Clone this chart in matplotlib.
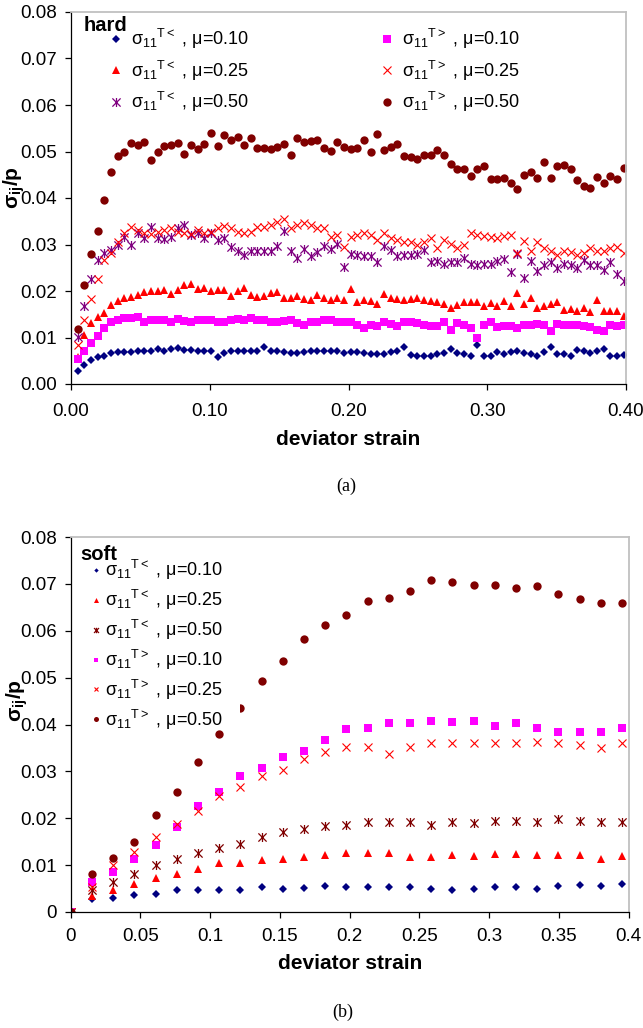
import matplotlib
matplotlib.use('Agg')
import matplotlib.pyplot as plt
from matplotlib.path import Path
from matplotlib.patches import Rectangle
import numpy as np

plt.rcParams['font.family'] = ['Liberation Sans', 'DejaVu Sans']
plt.rcParams['mathtext.fontset'] = 'custom'
plt.rcParams['mathtext.rm'] = 'Liberation Sans'
plt.rcParams['mathtext.it'] = 'Liberation Sans:italic'
plt.rcParams['mathtext.bf'] = 'Liberation Sans:bold'
plt.rcParams['mathtext.default'] = 'regular'

# ---- (a) hard : strain grid and the six series
hard_strain = np.round(np.arange(1, 84) * 0.0048, 4)
hard_lt_010 = [0.0027,0.0041,0.0051,0.0059,0.0061,0.0067,0.0068,0.0069,0.0068,0.0070,0.0072,0.0072,0.0075,0.0072,0.0075,0.0077,0.0074,0.0074,0.0072,0.0070,0.0070,
               0.0059,0.0066,0.0070,0.0070,0.0072,0.0070,0.0072,0.0079,0.0072,0.0070,0.0069,0.0066,0.0067,0.0069,0.0070,0.0070,0.0072,0.0072,0.0070,0.0066,
               0.0069,0.0069,0.0066,0.0064,0.0064,0.0064,0.0069,0.0072,0.0079,0.0063,0.0060,0.0060,0.0061,0.0064,0.0066,0.0076,0.0066,0.0064,0.0061,0.0084,0.0061,
               0.0061,0.0069,0.0064,0.0069,0.0070,0.0067,0.0064,0.0060,0.0069,0.0079,0.0064,0.0064,0.0060,0.0074,0.0070,0.0067,0.0070,0.0076,0.0061,0.0060,0.0062]
hard_lt_025 = [0.0059,0.0106,0.0131,0.0144,0.0152,0.0169,0.0179,0.0184,0.0188,0.0192,0.0197,0.0200,0.0200,0.0202,0.0194,0.0202,0.0213,0.0214,0.0204,0.0207,0.0200,
               0.0202,0.0203,0.0190,0.0199,0.0206,0.0192,0.0188,0.0190,0.0195,0.0197,0.0184,0.0186,0.0189,0.0183,0.0181,0.0192,0.0184,0.0181,0.0184,0.0181,
               0.0204,0.0176,0.0181,0.0179,0.0172,0.0194,0.0184,0.0183,0.0181,0.0183,0.0184,0.0181,0.0179,0.0176,0.0172,0.0164,0.0169,0.0176,0.0177,0.0176,0.0167,
               0.0174,0.0167,0.0179,0.0167,0.0195,0.0172,0.0184,0.0163,0.0167,0.0172,0.0177,0.0159,0.0162,0.0157,0.0164,0.0154,0.0181,0.0157,0.0157,0.0156,0.0147]
hard_lt_050 = [0.0102,0.0167,0.0225,0.0267,0.0281,0.0288,0.0299,0.0317,0.0300,0.0325,0.0313,0.0338,0.0315,0.0312,0.0317,0.0335,0.0343,0.0320,0.0324,0.0313,0.0324,
               0.0310,0.0315,0.0295,0.0285,0.0277,0.0286,0.0286,0.0285,0.0285,0.0297,0.0329,0.0286,0.0270,0.0290,0.0276,0.0283,0.0297,0.0290,0.0302,0.0252,
               0.0279,0.0277,0.0276,0.0276,0.0262,0.0297,0.0288,0.0276,0.0277,0.0277,0.0279,0.0288,0.0262,0.0265,0.0257,0.0262,0.0262,0.0270,0.0257,0.0256,0.0257,
               0.0257,0.0265,0.0269,0.0240,0.0279,0.0229,0.0265,0.0242,0.0255,0.0262,0.0250,0.0257,0.0256,0.0250,0.0267,0.0255,0.0255,0.0245,0.0262,0.0236,0.0222]
hard_gt_010 = [0.0054,0.0072,0.0088,0.0104,0.0120,0.0134,0.0138,0.0142,0.0142,0.0144,0.0133,0.0138,0.0137,0.0138,0.0133,0.0139,0.0136,0.0133,0.0138,0.0138,0.0138,
               0.0133,0.0133,0.0138,0.0139,0.0138,0.0142,0.0137,0.0138,0.0134,0.0133,0.0136,0.0138,0.0131,0.0127,0.0133,0.0134,0.0138,0.0137,0.0134,0.0133,
               0.0133,0.0127,0.0120,0.0127,0.0124,0.0134,0.0129,0.0124,0.0134,0.0133,0.0131,0.0127,0.0124,0.0124,0.0133,0.0117,0.0131,0.0127,0.0120,0.0099,0.0127,
               0.0133,0.0122,0.0124,0.0124,0.0120,0.0126,0.0127,0.0129,0.0127,0.0113,0.0129,0.0127,0.0127,0.0127,0.0124,0.0122,0.0117,0.0114,0.0127,0.0124,0.0126]
hard_gt_025 = [0.0084,0.0138,0.0182,0.0225,0.0267,0.0281,0.0306,0.0325,0.0338,0.0331,0.0324,0.0322,0.0327,0.0332,0.0335,0.0327,0.0324,0.0322,0.0331,0.0324,0.0327,
               0.0335,0.0340,0.0335,0.0327,0.0324,0.0327,0.0338,0.0338,0.0343,0.0349,0.0355,0.0335,0.0342,0.0347,0.0342,0.0335,0.0336,0.0317,0.0320,0.0295,
               0.0317,0.0320,0.0324,0.0320,0.0310,0.0324,0.0313,0.0310,0.0306,0.0306,0.0299,0.0306,0.0313,0.0292,0.0310,0.0302,0.0292,0.0300,0.0324,0.0320,0.0319,
               0.0317,0.0315,0.0319,0.0320,0.0281,0.0307,0.0285,0.0306,0.0292,0.0286,0.0277,0.0286,0.0283,0.0277,0.0281,0.0292,0.0286,0.0285,0.0292,0.0295,0.0281]
hard_gt_050 = [0.0119,0.0212,0.0279,0.0329,0.0396,0.0456,0.0490,0.0498,0.0519,0.0513,0.0520,0.0482,0.0500,0.0512,0.0515,0.0518,0.0495,0.0515,0.0505,0.0517,0.0540,
               0.0512,0.0536,0.0524,0.0531,0.0513,0.0530,0.0508,0.0508,0.0505,0.0510,0.0517,0.0493,0.0530,0.0520,0.0522,0.0524,0.0508,0.0501,0.0520,0.0510,
               0.0505,0.0508,0.0524,0.0500,0.0538,0.0503,0.0510,0.0517,0.0490,0.0488,0.0483,0.0493,0.0492,0.0503,0.0493,0.0474,0.0463,0.0463,0.0448,0.0463,0.0469,
               0.0440,0.0440,0.0442,0.0433,0.0419,0.0450,0.0455,0.0443,0.0478,0.0443,0.0469,0.0470,0.0463,0.0438,0.0426,0.0422,0.0445,0.0433,0.0448,0.0440,0.0465]

# ---- (b) soft
soft_strain = np.round(np.arange(27) * 0.0152, 4)
soft_lt_010 = [0, 0.0027,0.0030,0.0036,0.0038,0.0046,0.0047,0.0048,0.0046,0.0053,0.0049,0.0052,0.0055,0.0054,
               0.0054,0.0054,0.0054,0.0050,0.0048,0.0050,0.0053,0.0053,0.0050,0.0055,0.0058,0.0056,0.0059]
soft_lt_025 = [0, 0.0034,0.0048,0.0059,0.0072,0.0082,0.0091,0.0104,0.0104,0.0112,0.0114,0.0117,0.0122,0.0125,
               0.0125,0.0125,0.0118,0.0118,0.0121,0.0119,0.0124,0.0124,0.0121,0.0121,0.0121,0.0114,0.0119]
soft_lt_050 = [0, 0.0048,0.0065,0.0082,0.0100,0.0114,0.0125,0.0137,0.0146,0.0159,0.0171,0.0177,0.0183,0.0186,
               0.0191,0.0191,0.0191,0.0186,0.0193,0.0189,0.0195,0.0195,0.0191,0.0198,0.0195,0.0191,0.0193]
soft_gt_010 = [0, 0.0065,0.0086,0.0114,0.0144,0.0182,0.0226,0.0257,0.0290,0.0308,0.0330,0.0344,0.0367,0.0390,
               0.0392,0.0404,0.0404,0.0407,0.0405,0.0407,0.0397,0.0404,0.0392,0.0385,0.0385,0.0385,0.0392]
soft_gt_025 = [0, 0.0054,0.0100,0.0129,0.0161,0.0188,0.0216,0.0247,0.0267,0.0290,0.0303,0.0326,0.0341,0.0351,
               0.0351,0.0337,0.0351,0.0361,0.0361,0.0361,0.0360,0.0361,0.0363,0.0361,0.0356,0.0349,0.0360]
soft_gt_050 = [0, 0.0081,0.0116,0.0150,0.0206,0.0256,0.0321,0.0379,0.0435,0.0493,0.0535,0.0582,0.0612,0.0634,
               0.0663,0.0669,0.0684,0.0708,0.0704,0.0698,0.0697,0.0691,0.0695,0.0678,0.0667,0.0659,0.0659]

labels = [r'$\sigma_{11}{}^{T<}$ , μ=0.10', r'$\sigma_{11}{}^{T<}$ , μ=0.25', r'$\sigma_{11}{}^{T<}$ , μ=0.50',
          r'$\sigma_{11}{}^{T>}$ , μ=0.10', r'$\sigma_{11}{}^{T>}$ , μ=0.25', r'$\sigma_{11}{}^{T>}$ , μ=0.50']

# excel-like asterisk: an x with a vertical stroke
star = Path([(-1, -1), (1, 1), (-1, 1), (1, -1), (0, -1.1), (0, 1.1)],
            [Path.MOVETO, Path.LINETO, Path.MOVETO, Path.LINETO, Path.MOVETO, Path.LINETO])

def styles(star_col):
    return [dict(marker='D', ms=3.7, color='#000080', mew=0),
            dict(marker='^', ms=6.0, color='#ff0000', mew=0),
            dict(marker=star, ms=6.5, color=star_col, mfc='none', mew=0.9),
            dict(marker='s', ms=5.2, color='#ff00ff', mew=0),
            dict(marker='x', ms=6.0, color='#ff0000', mew=0.8),
            dict(marker='o', ms=6.0, color='#800000', mew=0)]

def frame(ax, xt, xl, xpad):
    ax.set_ylim(0, 0.08)
    ax.set_xlim(0, 0.40)
    ax.set_xticks(xt)
    ax.set_xticklabels(xl)
    for s in ['top', 'right']:
        ax.spines[s].set_color('#c0c0c0')
        ax.spines[s].set_linewidth(1.3)
    for s in ['left', 'bottom']:
        ax.spines[s].set_linewidth(0.9)
    ax.tick_params(direction='out', length=4.5, width=0.9, labelsize=13.5, top=False, right=False)
    ax.tick_params(axis='y', pad=5.5)
    ax.tick_params(axis='x', pad=xpad)

fig = plt.figure(figsize=(6.43, 10.28), dpi=100)

# ---------------- (a)
ax1 = fig.add_axes([71/643, 1-384/1028, 555/643, 372/1028])
hs = [hard_lt_010, hard_lt_025, hard_lt_050, hard_gt_010, hard_gt_025, hard_gt_050]
hl = []
for ys, st in zip(hs, styles('#800080')):
    h, = ax1.plot(hard_strain, ys, ls='none', **st)
    hl.append(h)
frame(ax1, [0, 0.1, 0.2, 0.3, 0.4], ['0.00', '0.10', '0.20', '0.30', '0.40'], 9.5)
ax1.set_yticks(np.arange(0, 0.081, 0.01))
ax1.set_yticklabels(['0.00', '0.01', '0.02', '0.03', '0.04', '0.05', '0.06', '0.07', '0.08'])
ax1.set_xlabel('deviator strain', fontsize=15, fontweight='bold')
ax1.xaxis.set_label_coords(0.5, -0.124)
ax1.set_ylabel(r'$\mathbf{σ_{ij}/p}$', fontsize=15)
ax1.yaxis.set_label_coords(-0.079, 0.527)
ax1.text(0.022, 0.99, 'hard', transform=ax1.transAxes, fontsize=14.5, fontweight='bold', va='top', ha='left')
leg1 = ax1.legend(hl[:3], labels[:3], loc='upper left', bbox_to_anchor=(0.064, 0.960), frameon=False,
                  fontsize=13, handlelength=1.0, handletextpad=0.35, labelspacing=0.42, borderpad=0, borderaxespad=0)
ax1.add_artist(leg1)
ax1.legend(hl[3:], labels[3:], loc='upper left', bbox_to_anchor=(0.553, 0.960), frameon=False,
           fontsize=13, handlelength=1.0, handletextpad=0.35, labelspacing=0.42, borderpad=0, borderaxespad=0)

# ---------------- (b)
ax2 = fig.add_axes([70.7/643, 1-912/1028, 558/643, 375/1028])
ss = [soft_lt_010, soft_lt_025, soft_lt_050, soft_gt_010, soft_gt_025, soft_gt_050]
sl = []
for ys, st in zip(ss, styles('#800000')):
    h, = ax2.plot(soft_strain, ys, ls='none', **st)
    sl.append(h)
frame(ax2, [0, 0.05, 0.1, 0.15, 0.2, 0.25, 0.3, 0.35, 0.4],
      ['0', '0.05', '0.1', '0.15', '0.2', '0.25', '0.3', '0.35', '0.4'], 7)
ax2.set_yticks(np.arange(0, 0.081, 0.01))
ax2.set_yticklabels(['0', '0.01', '0.02', '0.03', '0.04', '0.05', '0.06', '0.07', '0.08'])
ax2.set_xlabel('deviator strain', fontsize=15, fontweight='bold')
ax2.xaxis.set_label_coords(0.5, -0.112)
ax2.set_ylabel(r'$\mathbf{σ_{ij}/p}$', fontsize=15)
ax2.yaxis.set_label_coords(-0.073, 0.565)
ax2.text(0.018, 0.978, 'soft', transform=ax2.transAxes, fontsize=14.5, fontweight='bold',
         va='top', ha='left', zorder=10)
# the legend area is opaque in the original and hides a marker behind it
ax2.add_patch(Rectangle((0.004, 0.493), 0.30, 0.465, transform=ax2.transAxes,
                        facecolor='white', edgecolor='none', zorder=4))
leg2 = ax2.legend(sl, labels, loc='upper left', bbox_to_anchor=(0.023, 0.958), frameon=False,
                  markerscale=0.6, fontsize=13, handlelength=0.8, handletextpad=0.1,
                  labelspacing=0.32, borderpad=0.3, borderaxespad=0)

fig.text(0.538, 1-486/1028, '(a)', fontsize=13, family='Liberation Serif', ha='center', va='center')
fig.text(0.533, 1-1012/1028, '(b)', fontsize=13, family='Liberation Serif', ha='center', va='center')

fig.savefig('out.png', dpi=100)
